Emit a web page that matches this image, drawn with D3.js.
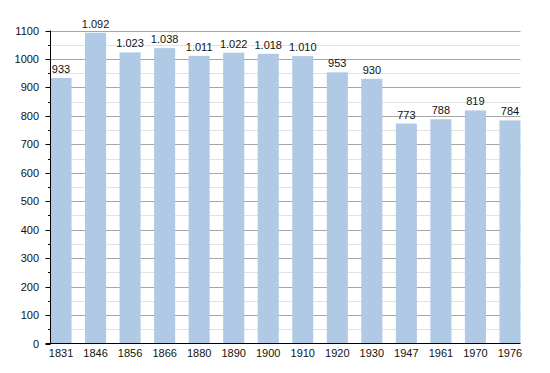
<!DOCTYPE html>
<html>
<head>
<meta charset="utf-8">
<script src="https://cdn.jsdelivr.net/npm/d3@7"></script>
<style>
  body { margin: 0; background: #fff; }
  svg { display: block; font-family: "Liberation Sans", Arial, sans-serif; }
</style>
</head>
<body>
<svg id="chart" width="550" height="373"></svg>
<script>
// population by census year
var years = ["1831", "1846", "1856", "1866", "1880", "1890", "1900", "1910", "1920", "1930", "1947", "1961", "1970", "1976"];
var population = [933, 1092, 1023, 1038, 1011, 1022, 1018, 1010, 953, 930, 773, 788, 819, 784];
var yTicks = [0, 100, 200, 300, 400, 500, 600, 700, 800, 900, 1000, 1100];

// note: "top" is taken by window.top, so prefix these
var plotLeft = 50.5, plotRight = 520.5, plotTop = 30.5, plotBottom = 343.5;

var svg = d3.select("#chart");

var x = d3.scaleBand()
  .domain(years)
  .range([plotLeft, plotRight])
  .paddingInner(0.39)
  .paddingOuter(0);

var y = d3.scaleLinear()
  .domain([0, 1100])
  .range([plotBottom, plotTop]);

function py(d) { return Math.round(y(d)) + 0.5; }

// minor gridlines every 50
var minor = d3.range(50, 1100, 100);
svg.append("g").selectAll("line")
  .data(minor)
  .enter().append("line")
  .attr("x1", plotLeft).attr("x2", plotRight)
  .attr("y1", py).attr("y2", py)
  .style("stroke", "#e2e2e2");

// major gridlines
svg.append("g").selectAll("line")
  .data(yTicks.slice(1))
  .enter().append("line")
  .attr("x1", plotLeft).attr("x2", plotRight)
  .attr("y1", py).attr("y2", py)
  .style("stroke", "#a6a6a6");

// bars
svg.append("g").selectAll("rect")
  .data(population)
  .enter().append("rect")
  .attr("x", (d, i) => x(years[i]))
  .attr("width", x.bandwidth())
  .attr("y", d => y(d))
  .attr("height", d => y(0) - y(d))
  .style("fill", "#b0c9e4");

// value labels (dot as thousands separator)
var fmt = d3.formatLocale({decimal: ",", thousands: ".", grouping: [3], currency: ["", ""]}).format(",d");
svg.append("g").selectAll("text")
  .data(population)
  .enter().append("text")
  .attr("x", (d, i) => x(years[i]) + x.bandwidth() / 2)
  .attr("y", d => y(d) - 5)
  .attr("text-anchor", "middle")
  .style("font-size", "11px")
  .style("fill", "#111")
  .text(d => fmt(d));

// y axis
var yAxis = svg.append("g");
yAxis.append("line")
  .attr("x1", plotLeft).attr("x2", plotLeft)
  .attr("y1", plotTop).attr("y2", plotBottom)
  .style("stroke", "#000");
yAxis.selectAll(".major")
  .data(yTicks)
  .enter().append("line")
  .attr("x1", plotLeft - 5).attr("x2", plotLeft)
  .attr("y1", py).attr("y2", py)
  .style("stroke", "#000");
yAxis.selectAll(".minor")
  .data(minor)
  .enter().append("line")
  .attr("x1", plotLeft - 2.5).attr("x2", plotLeft)
  .attr("y1", py).attr("y2", py)
  .style("stroke", "#000");
yAxis.selectAll("text")
  .data(yTicks)
  .enter().append("text")
  .attr("x", 39)
  .attr("y", d => y(d) + 4)
  .attr("text-anchor", "end")
  .style("font-size", "11px")
  .style("fill", "#111")
  .text(d => d);

// x axis
var xAxis = svg.append("g");
xAxis.append("line")
  .attr("x1", plotLeft - 5).attr("x2", plotRight)
  .attr("y1", plotBottom).attr("y2", plotBottom)
  .style("stroke", "#000");
xAxis.selectAll("text")
  .data(years)
  .enter().append("text")
  .attr("x", d => x(d) + x.bandwidth() / 2)
  .attr("y", 357)
  .attr("text-anchor", "middle")
  .style("font-size", "11px")
  .style("fill", "#111")
  .text(d => d);
</script>
</body>
</html>
